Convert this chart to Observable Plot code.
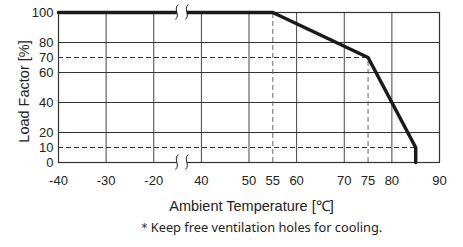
<!DOCTYPE html>
<html><head><meta charset="utf-8">
<script src="https://cdn.jsdelivr.net/npm/d3@7"></script>
<script src="https://cdn.jsdelivr.net/npm/@observablehq/plot@0.6"></script>
<style>body{margin:0;background:#fff}</style>
</head><body><div id="chart"></div>
<script>
// ---- data ----
const tempTicks = [-40, -30, -20, 40, 50, 55, 60, 70, 75, 80, 90];
const loadTicks = [0, 10, 20, 40, 60, 70, 80, 100];
const gridTemps = [-30, -20, 40, 50, 60, 70, 80];
const gridLoads = [20, 40, 60, 80];
const curveTemp = [-40, 55, 75, 85, 85];
const curveLoad = [100, 100, 70, 10, 0];
const guideTemps = [55, 75];
const guideTempTops = [100, 70];
const guideLoads = [70, 10];
const guideLoadEnds = [75, 85];
const axisBreak = {from: -20, to: 40, gap: 10};
const xLabel = "Ambient Temperature [℃]";
const yLabel = "Load Factor [%]";
const note = "＊Keep free ventilation holes for cooling.";

// broken axis: compress -20..40 into a 10-unit gap
const toAxis = t => t <= axisBreak.from ? t
  : t >= axisBreak.to ? t - (axisBreak.to - axisBreak.from) + axisBreak.gap
  : axisBreak.from + (t - axisBreak.from) / (axisBreak.to - axisBreak.from) * axisBreak.gap;
const fromAxis = u => u <= axisBreak.from ? u : u + (axisBreak.to - axisBreak.from) - axisBreak.gap;
const breakU = axisBreak.from + 0.6 * axisBreak.gap;

const curve = curveTemp.map((t, i) => ({u: toAxis(t), load: curveLoad[i]}));
const vGuides = guideTemps.map((t, i) => ({u: toAxis(t), top: guideTempTops[i]}));
const hGuides = guideLoads.map((l, i) => ({load: l, end: toAxis(guideLoadEnds[i])}));

function breakMarks(index, scales) {
  const g = d3.create("svg:g");
  const cx = scales.x(breakU);
  for (const v of [100, 0]) {
    const cy = scales.y(v);
    g.append("rect").attr("x", cx - 5).attr("y", cy - 3).attr("width", 10).attr("height", 6).attr("fill", "white");
    for (const off of [-5, 5]) {
      const x = cx + off;
      g.append("path")
        .attr("d", `M${x + 1.5},${cy - 7.5}C${x - 4},${cy - 3} ${x + 4},${cy + 3} ${x - 1.5},${cy + 7.5}`)
        .attr("fill", "none").attr("stroke", "#222").attr("stroke-width", 1);
    }
  }
  return g.node();
}

const chart = Plot.plot({
  width: 463,
  height: 247,
  marginTop: 12,
  marginLeft: 58,
  marginRight: 24,
  marginBottom: 85,
  style: {fontFamily: "'Liberation Sans', Arial, sans-serif", fontSize: "13px", color: "#222", background: "white"},
  x: {type: "linear", domain: [toAxis(-40), toAxis(90)]},
  y: {domain: [0, 100]},
  marks: [
    Plot.ruleX(gridTemps.map(toAxis), {stroke: "#444", strokeWidth: 1, strokeOpacity: 1}),
    Plot.ruleY(gridLoads, {stroke: "#333", strokeWidth: 1, strokeOpacity: 1}),
    Plot.ruleX(vGuides, {x: "u", y1: 0, y2: "top", stroke: "#666", strokeDasharray: "5,3", strokeWidth: 1}),
    Plot.ruleY(hGuides, {y: "load", x1: toAxis(-40), x2: "end", stroke: "#333", strokeDasharray: "5,3", strokeWidth: 1}),
    Plot.frame({stroke: "#333", strokeWidth: 1.2}),
    Plot.line(curve, {x: "u", y: "load", stroke: "#1a1a1a", strokeWidth: 3.5, strokeLinejoin: "miter"}),
    breakMarks,
    Plot.axisX({ticks: tempTicks.map(toAxis), tickFormat: u => String(Math.round(fromAxis(u))), tickSize: 0, tickPadding: 13, label: null}),
    Plot.axisY({ticks: loadTicks, tickSize: 0, tickPadding: 5, label: null}),
    Plot.text([yLabel], {frameAnchor: "left", textAnchor: "middle", rotate: -90, dx: -34, dy: 4, fontSize: 14.5}),
    Plot.text([xLabel], {frameAnchor: "bottom", dy: 44, dx: 2.5, lineAnchor: "middle", fontSize: 14.5}),
    Plot.text([note], {frameAnchor: "bottom", dy: 65, dx: 11, lineAnchor: "middle", fontSize: 12.8, fontFamily: "'Noto Sans', 'Open Sans', sans-serif"})
  ]
});
document.getElementById("chart").append(chart);
</script>
</body></html>
